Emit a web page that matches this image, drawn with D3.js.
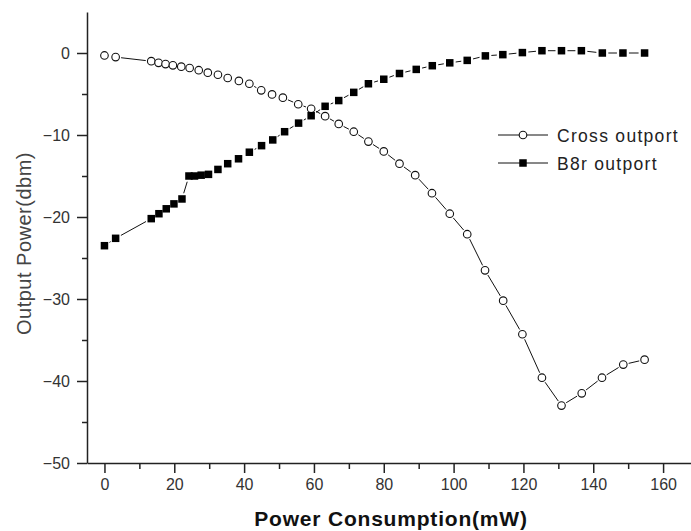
<!DOCTYPE html>
<html>
<head>
<meta charset="utf-8">
<script src="https://cdn.jsdelivr.net/npm/d3@7"></script>
<style>
  html, body { margin: 0; padding: 0; background: #fff; }
  svg { display: block; }
</style>
</head>
<body>
<svg id="chart" width="691" height="531"></svg>
<script>
// ---- data ----
const crossX = [0, 3.2, 13.4, 15.5, 17.5, 19.6, 22, 24.4, 27, 29.6, 32.5, 35.3, 38.5, 41.5, 44.9, 48, 51.1, 55.5, 59.2, 63.2, 67.1, 71.4, 75.6, 80, 84.5, 89, 93.8, 98.9, 103.9, 109, 114.2, 119.7, 125.3, 130.9, 136.7, 142.5, 148.6, 154.7];
const crossY = [-0.3, -0.5, -1.0, -1.2, -1.35, -1.5, -1.67, -1.83, -2.1, -2.4, -2.65, -3.05, -3.4, -3.75, -4.55, -5.05, -5.45, -6.25, -6.8, -7.7, -8.65, -9.6, -10.8, -12.0, -13.5, -14.9, -17.1, -19.6, -22.1, -26.5, -30.2, -34.3, -39.6, -43.0, -41.5, -39.6, -38.0, -37.4];
const barX = [0, 3.2, 13.4, 15.6, 17.7, 19.9, 22.2, 24.2, 25.8, 27.7, 29.8, 32.5, 35.3, 38.4, 41.5, 45, 48.2, 51.6, 55.6, 59.2, 63.2, 67.1, 71.4, 75.6, 80, 84.5, 89.3, 93.9, 98.9, 103.9, 109.1, 114.1, 119.7, 125.3, 130.9, 136.6, 142.6, 148.5, 154.7];
const barY = [-23.5, -22.6, -20.2, -19.6, -19.0, -18.4, -17.8, -15.0, -15.0, -14.9, -14.8, -14.2, -13.5, -12.9, -12.1, -11.3, -10.6, -9.6, -8.55, -7.65, -6.5, -5.8, -4.8, -3.75, -3.2, -2.5, -2.0, -1.55, -1.2, -0.9, -0.35, -0.2, 0.05, 0.28, 0.28, 0.28, 0.0, 0.0, 0.0];
const seriesNames = ["Cross outport", "B8r outport"];
const xTicks = [0, 20, 40, 60, 80, 100, 120, 140, 160];
const xMinorTicks = [10, 30, 50, 70, 90, 110, 130, 150];
const yTicks = [0, -10, -20, -30, -40, -50];
const yMinorTicks = [-5, -15, -25, -35, -45];
const xTitle = "Power Consumption(mW)";
const yTitle = "Output Power(dbm)";

// ---- layout ----
const svg = d3.select("#chart");
const x = d3.scaleLinear().domain([-5, 170]).range([87, 698]);
const y = d3.scaleLinear().domain([-50, 5]).range([463, 12]);
const axisColor = "#222";

// axes
const xAxis = svg.append("g").attr("transform", `translate(0,${y(-50)})`)
  .call(d3.axisBottom(x).tickValues(xTicks).tickSize(10).tickSizeOuter(0).tickPadding(6).tickFormat(d3.format("d")));
const xMinor = svg.append("g").attr("transform", `translate(0,${y(-50)})`)
  .call(d3.axisBottom(x).tickValues(xMinorTicks).tickSize(6).tickSizeOuter(0).tickFormat(""));
xMinor.select(".domain").remove();
const yAxis = svg.append("g").attr("transform", `translate(${x(-5)},0)`)
  .call(d3.axisLeft(y).tickValues(yTicks).tickSize(10).tickSizeOuter(0).tickPadding(7).tickFormat(d3.format("d")));
const yMinor = svg.append("g").attr("transform", `translate(${x(-5)},0)`)
  .call(d3.axisLeft(y).tickValues(yMinorTicks).tickSize(5).tickSizeOuter(0).tickFormat(""));
yMinor.select(".domain").remove();

svg.selectAll(".domain").attr("stroke", axisColor).attr("stroke-width", 1.5);
svg.selectAll(".tick line").attr("stroke", axisColor).attr("stroke-width", 1.5);
svg.selectAll(".tick text")
  .attr("font-family", "'Liberation Sans', Arial, sans-serif")
  .attr("font-size", 16)
  .attr("fill", "#333");
yAxis.selectAll(".tick text").attr("dy", "0.35em");

// titles
svg.append("text")
  .attr("x", 391).attr("y", 526)
  .attr("text-anchor", "middle")
  .attr("font-family", "'Liberation Sans', Arial, sans-serif")
  .attr("font-weight", "bold")
  .attr("font-size", 21)
  .attr("letter-spacing", 0.8)
  .attr("fill", "#111")
  .text(xTitle);
svg.append("text")
  .attr("transform", `translate(31,${(145 + 342) / 2}) rotate(-90)`)
  .attr("text-anchor", "middle")
  .attr("font-family", "'Liberation Sans', Arial, sans-serif")
  .attr("font-size", 20)
  .attr("letter-spacing", 0.5)
  .attr("fill", "#444")
  .text(yTitle);

// ---- series ----
function drawGappedLine(xs, ys, gap) {
  const g = svg.append("g");
  for (let i = 0; i < xs.length - 1; i++) {
    const x1 = x(xs[i]), y1 = y(ys[i]), x2 = x(xs[i + 1]), y2 = y(ys[i + 1]);
    const dx = x2 - x1, dy = y2 - y1, d = Math.hypot(dx, dy);
    if (d <= 2 * gap + 1) continue;
    const ux = dx / d, uy = dy / d;
    g.append("line")
      .attr("x1", x1 + ux * gap).attr("y1", y1 + uy * gap)
      .attr("x2", x2 - ux * gap).attr("y2", y2 - uy * gap)
      .attr("stroke", "#111").attr("stroke-width", 1);
  }
}
drawGappedLine(crossX, crossY, 5.5);
drawGappedLine(barX, barY, 6);

const crossData = crossX.map((v, i) => ({ x: v, y: crossY[i] }));
const barData = barX.map((v, i) => ({ x: v, y: barY[i] }));

svg.append("g").selectAll("circle").data(crossData).join("circle")
  .attr("cx", d => x(d.x)).attr("cy", d => y(d.y)).attr("r", 3.8)
  .attr("fill", "#fff").attr("stroke", "#111").attr("stroke-width", 1.1);

const sq = 7.5;
svg.append("g").selectAll("rect").data(barData).join("rect")
  .attr("x", d => x(d.x) - sq / 2).attr("y", d => y(d.y) - sq / 2)
  .attr("width", sq).attr("height", sq)
  .attr("fill", "#000");

// ---- legend ----
const legend = svg.append("g");
const legRows = [
  { name: seriesNames[0], ly: 135, type: "circle" },
  { name: seriesNames[1], ly: 163, type: "square" }
];
legRows.forEach(r => {
  legend.append("line").attr("x1", 498).attr("x2", 548).attr("y1", r.ly).attr("y2", r.ly)
    .attr("stroke", "#111").attr("stroke-width", 1);
  if (r.type === "circle") {
    legend.append("circle").attr("cx", 523).attr("cy", r.ly).attr("r", 3.8)
      .attr("fill", "#fff").attr("stroke", "#111").attr("stroke-width", 1.1);
  } else {
    legend.append("rect").attr("x", 523 - sq / 2).attr("y", r.ly - sq / 2)
      .attr("width", sq).attr("height", sq).attr("fill", "#000");
  }
  legend.append("text").attr("x", 557).attr("y", r.ly + 6.5)
    .attr("font-family", "'Liberation Sans', Arial, sans-serif")
    .attr("font-size", 17.5).attr("letter-spacing", 1.3).attr("fill", "#222")
    .text(r.name);
});
</script>
</body>
</html>
